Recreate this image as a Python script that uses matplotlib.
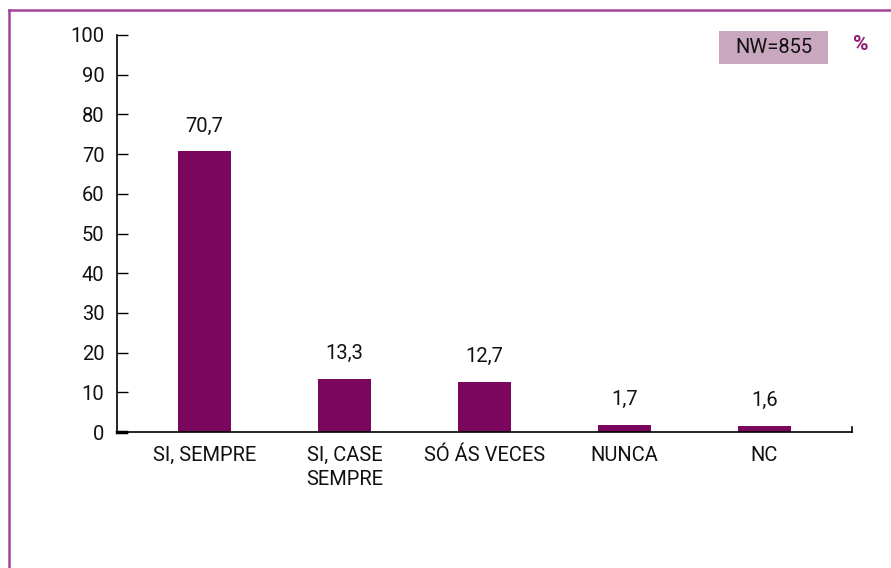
import matplotlib.pyplot as plt
from matplotlib import font_manager
from matplotlib.lines import Line2D
from matplotlib.patches import Rectangle

categories = ["SI, SEMPRE", "SI, CASE\nSEMPRE", "SÓ ÁS VECES", "NUNCA", "NC"]
values = [70.7, 13.3, 12.7, 1.7, 1.6]
value_labels = ["70,7", "13,3", "12,7", "1,7", "1,6"]
y_ticks = [0, 10, 20, 30, 40, 50, 60, 70, 80, 90, 100]

BAR = "#7a065e"
FRAME = "#a3449a"
BOX = "#c9a7bf"
INK = "#111111"

names = {f.name for f in font_manager.fontManager.ttflist}
FAMILY = ["Liberation Sans Narrow"] if "Liberation Sans Narrow" in names else ["Roboto", "DejaVu Sans"]
plt.rcParams["font.family"] = FAMILY
FS = 14.5

W, H = 891, 568
fig = plt.figure(figsize=(W / 100, H / 100), dpi=100)

# marco da figura (superior e esquerdo)
fig.add_artist(Line2D([9 / W, 9 / W], [0, 1 - 10 / H], color=FRAME, lw=1.8))
fig.add_artist(Line2D([9 / W, 1], [1 - 10 / H, 1 - 10 / H], color=FRAME, lw=1.8))

ax = fig.add_axes([117 / W, 1 - 432 / H, (852 - 117) / W, (432 - 35) / H])
x = list(range(len(categories)))
ax.bar(x, values, width=0.38, color=BAR)
for xi, v, lab in zip(x, values, value_labels):
    ax.text(xi, v + 4, lab, ha="center", va="bottom", fontsize=FS, color=INK)

ax.set_xlim(-0.625, 4.625)
ax.set_ylim(0, 100)
ax.set_yticks(y_ticks)
ax.set_yticklabels([str(t) for t in y_ticks], fontsize=FS, color=INK)
ax.tick_params(axis="y", direction="in", length=8, width=1, pad=9)
ax.set_xticks(x)
ax.set_xticklabels(categories, fontsize=FS, color=INK, linespacing=1.35)
ax.tick_params(axis="x", length=0, pad=10)
for s in ["top", "right"]:
    ax.spines[s].set_visible(False)
for s in ["left", "bottom"]:
    ax.spines[s].set_linewidth(1.2)
# pequenas marcas nos extremos do eixo x
ax.plot([4.625, 4.625], [0, 1.3], color="black", lw=1.2, clip_on=False)
ax.plot([-0.625, -0.56], [0, 0], color="black", lw=2.5, clip_on=False)

fig.add_artist(Rectangle((719 / W, 1 - 64 / H), 109 / W, 33 / H,
                         facecolor=BOX, edgecolor="none"))
fig.text(773.5 / W, 1 - 47.5 / H, "NW=855", ha="center", va="center",
         fontsize=FS, color=INK)
fig.text(861 / W, 1 - 45 / H, "%", ha="center", va="center",
         fontsize=15, fontweight="bold", color="#8b1a72")

fig.savefig("out.png", dpi=100)
